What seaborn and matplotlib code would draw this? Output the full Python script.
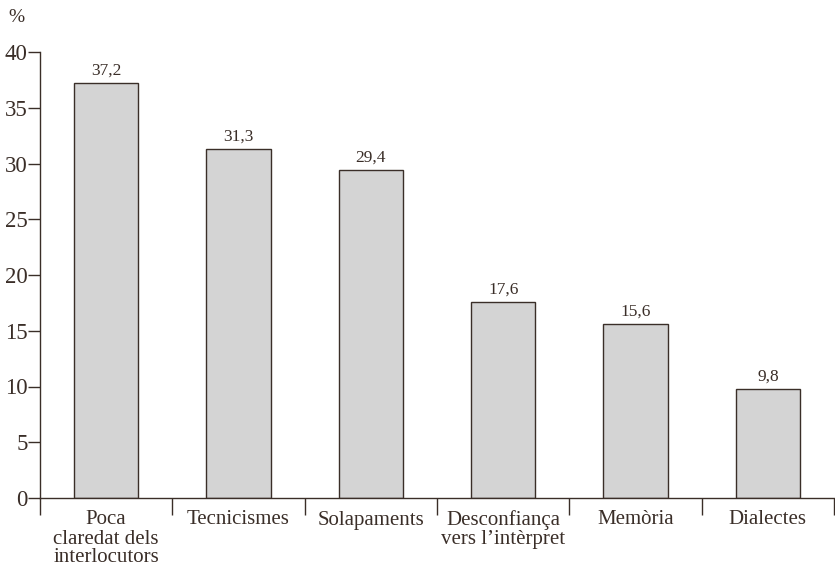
import matplotlib
matplotlib.use("Agg")
import matplotlib.pyplot as plt
import seaborn as sns
import numpy as np
import pandas as pd

categories = ["Poca\nclaredat dels\ninterlocutors", "Tecnicismes", "Solapaments",
              "Desconfiança\nvers l\u2019intèrpret", "Memòria", "Dialectes"]
values = [37.2, 31.3, 29.4, 17.6, 15.6, 9.8]
yticks = [0, 5, 10, 15, 20, 25, 30, 35, 40]

sns.set_style("white")
plt.rcParams['font.family'] = ['Liberation Serif', 'DejaVu Serif']
ink = "#3a2e28"

W, H = 835, 566
fig = plt.figure(figsize=(W/100, H/100), dpi=100)
ax = fig.add_axes([40/W, (H-498)/H, (834-40)/W, (498-52)/H])

df = pd.DataFrame({"cat": categories, "val": values})
sns.barplot(data=df, x="cat", y="val", color="#d4d4d4", saturation=1,
            edgecolor=ink, linewidth=1.0, width=0.485, ax=ax)

ax.set_xlim(-0.5, len(categories) - 0.5)
ax.set_ylim(0, 40)
ax.set_yticks(yticks)
ax.set_yticklabels([str(t) for t in yticks], fontsize=16.5, color=ink)
ax.tick_params(axis="y", length=9, width=1, color=ink, pad=0, direction="out", left=True)

ax.set_xticks(range(len(categories)))
ax.set_xticklabels(categories, fontsize=15.0, color=ink, linespacing=1.0, va="top")
ax.tick_params(axis="x", length=0, pad=9)
ax.set_xticks(np.arange(-0.5, len(categories)), minor=True)
ax.tick_params(axis="x", which="minor", length=12, width=1, color=ink, direction="out", bottom=True)

for s in ["top", "right"]:
    ax.spines[s].set_visible(False)
for s in ["left", "bottom"]:
    ax.spines[s].set_color(ink)
    ax.spines[s].set_linewidth(1.0)

ax.set_xlabel("")
ax.set_ylabel("")

labels = [f"{v:.1f}".replace(".", ",") for v in values]
ax.bar_label(ax.containers[0], labels=labels, padding=3, fontsize=12.5, color=ink)

fig.text(8/W, 1 - 18/H, "%", fontsize=14, color=ink, ha="left", va="center")

fig.savefig("out.png", dpi=100)
